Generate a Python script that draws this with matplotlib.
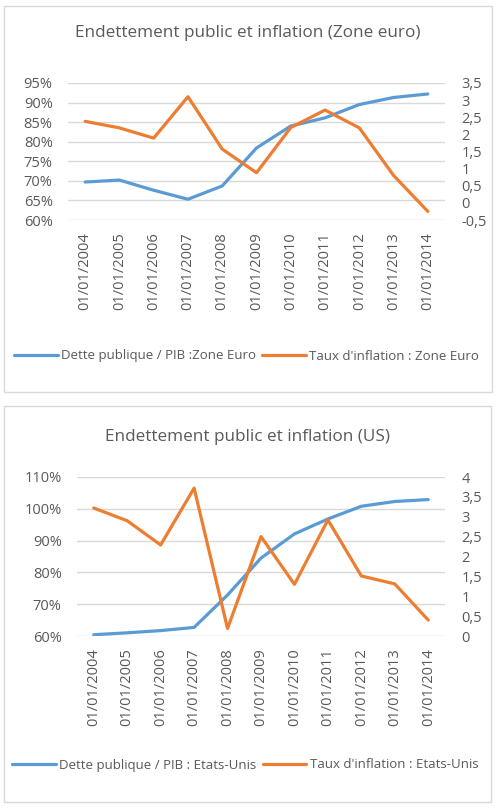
import matplotlib
matplotlib.use("Agg")
import matplotlib.pyplot as plt
from matplotlib.patches import Rectangle

plt.rcParams['font.family'] = ['Open Sans', 'DejaVu Sans']

dates = ["01/01/2004", "01/01/2005", "01/01/2006", "01/01/2007", "01/01/2008",
         "01/01/2009", "01/01/2010", "01/01/2011", "01/01/2012", "01/01/2013",
         "01/01/2014"]

# zone euro
dette_ze = [69.7, 70.2, 67.6, 65.3, 68.7, 78.4, 84.0, 86.1, 89.5, 91.3, 92.2]
infl_ze = [2.38, 2.19, 1.89, 3.10, 1.57, 0.88, 2.20, 2.71, 2.19, 0.80, -0.25]
left_ticks_ze = [60, 65, 70, 75, 80, 85, 90, 95]
right_ticks_ze = [-0.5, 0, 0.5, 1, 1.5, 2, 2.5, 3, 3.5]

# etats-unis
dette_us = [60.4, 61.0, 61.7, 62.7, 72.9, 84.5, 92.1, 96.8, 100.8, 102.3, 102.9]
infl_us = [3.22, 2.90, 2.29, 3.72, 0.19, 2.50, 1.30, 2.92, 1.51, 1.31, 0.40]
left_ticks_us = [60, 70, 80, 90, 100, 110]
right_ticks_us = [0, 0.5, 1, 1.5, 2, 2.5, 3, 3.5, 4]

W, H = 500, 809
BLUE = "#5B9BD5"
ORANGE = "#ED7D31"
GRID = "#D9D9D9"
TXT = "#595959"

fig = plt.figure(figsize=(W / 100, H / 100), dpi=100)


def px(x0, y0, x1, y1):
    return [x0 / W, 1 - y1 / H, (x1 - x0) / W, (y1 - y0) / H]


def fmt_num(v):
    s = ("%g" % v).replace(".", ",")
    return s


def chart(box, area, title, title_y, dette, infl, lticks, rticks,
          lab1, lab2, leg_xy):
    fig.patches.append(Rectangle((box[0] / W, 1 - box[3] / H),
                                 (box[2] - box[0]) / W, (box[3] - box[1]) / H,
                                 transform=fig.transFigure, fill=False,
                                 edgecolor=GRID, lw=1))
    fig.text((box[0] + box[2]) / 2 / W, 1 - title_y / H, title,
             ha="center", va="center", fontsize=12.3, color=TXT)

    ax = fig.add_axes(px(*area))
    ax2 = ax.twinx()
    x = range(len(dates))
    l1, = ax.plot(x, dette, color=BLUE, lw=2.3, solid_capstyle="round")
    l2, = ax2.plot(x, infl, color=ORANGE, lw=2.3, solid_capstyle="round")

    ax.set_xlim(-0.5, len(dates) - 0.5)
    ax.set_ylim(lticks[0], lticks[-1])
    ax2.set_ylim(rticks[0], rticks[-1])
    ax.set_yticks(lticks)
    ax.set_yticklabels(["%d%%" % t for t in lticks])
    ax2.set_yticks(rticks)
    ax2.set_yticklabels([fmt_num(t) for t in rticks])
    ax.set_xticks(list(x))
    ax.set_xticklabels(dates, rotation=90)

    ax.grid(axis="y", color=GRID, lw=1)
    ax.set_axisbelow(True)
    for a in (ax, ax2):
        for s in a.spines.values():
            s.set_visible(False)
        a.tick_params(length=0, labelsize=10.5, colors=TXT)
    ax.tick_params(axis="y", pad=11)
    ax.tick_params(axis="x", pad=9)
    ax2.tick_params(axis="y", pad=12)
    ax2.set_zorder(ax.get_zorder() + 1)
    ax2.patch.set_visible(False)

    fig.legend([l1, l2], [lab1, lab2], loc="center left",
               bbox_to_anchor=(leg_xy[0] / W, 1 - leg_xy[1] / H),
               ncol=2, frameon=False, fontsize=9.5, labelcolor=TXT,
               handlelength=3.3, handletextpad=0.25, columnspacing=0.5,
               borderpad=0, borderaxespad=0)


chart((4, 6, 492, 392), (68, 83, 445, 220),
      "Endettement public et inflation (Zone euro)", 33,
      dette_ze, infl_ze, left_ticks_ze, right_ticks_ze,
      "Dette publique / PIB :Zone Euro", "Taux d'inflation : Zone Euro",
      (14, 356))

chart((4, 406, 491, 802), (77, 477, 445, 636),
      "Endettement public et inflation (US)", 437,
      dette_us, infl_us, left_ticks_us, right_ticks_us,
      "Dette publique / PIB : Etats-Unis", "Taux d'inflation : Etats-Unis",
      (12, 765))

fig.savefig("out.png", dpi=100)
